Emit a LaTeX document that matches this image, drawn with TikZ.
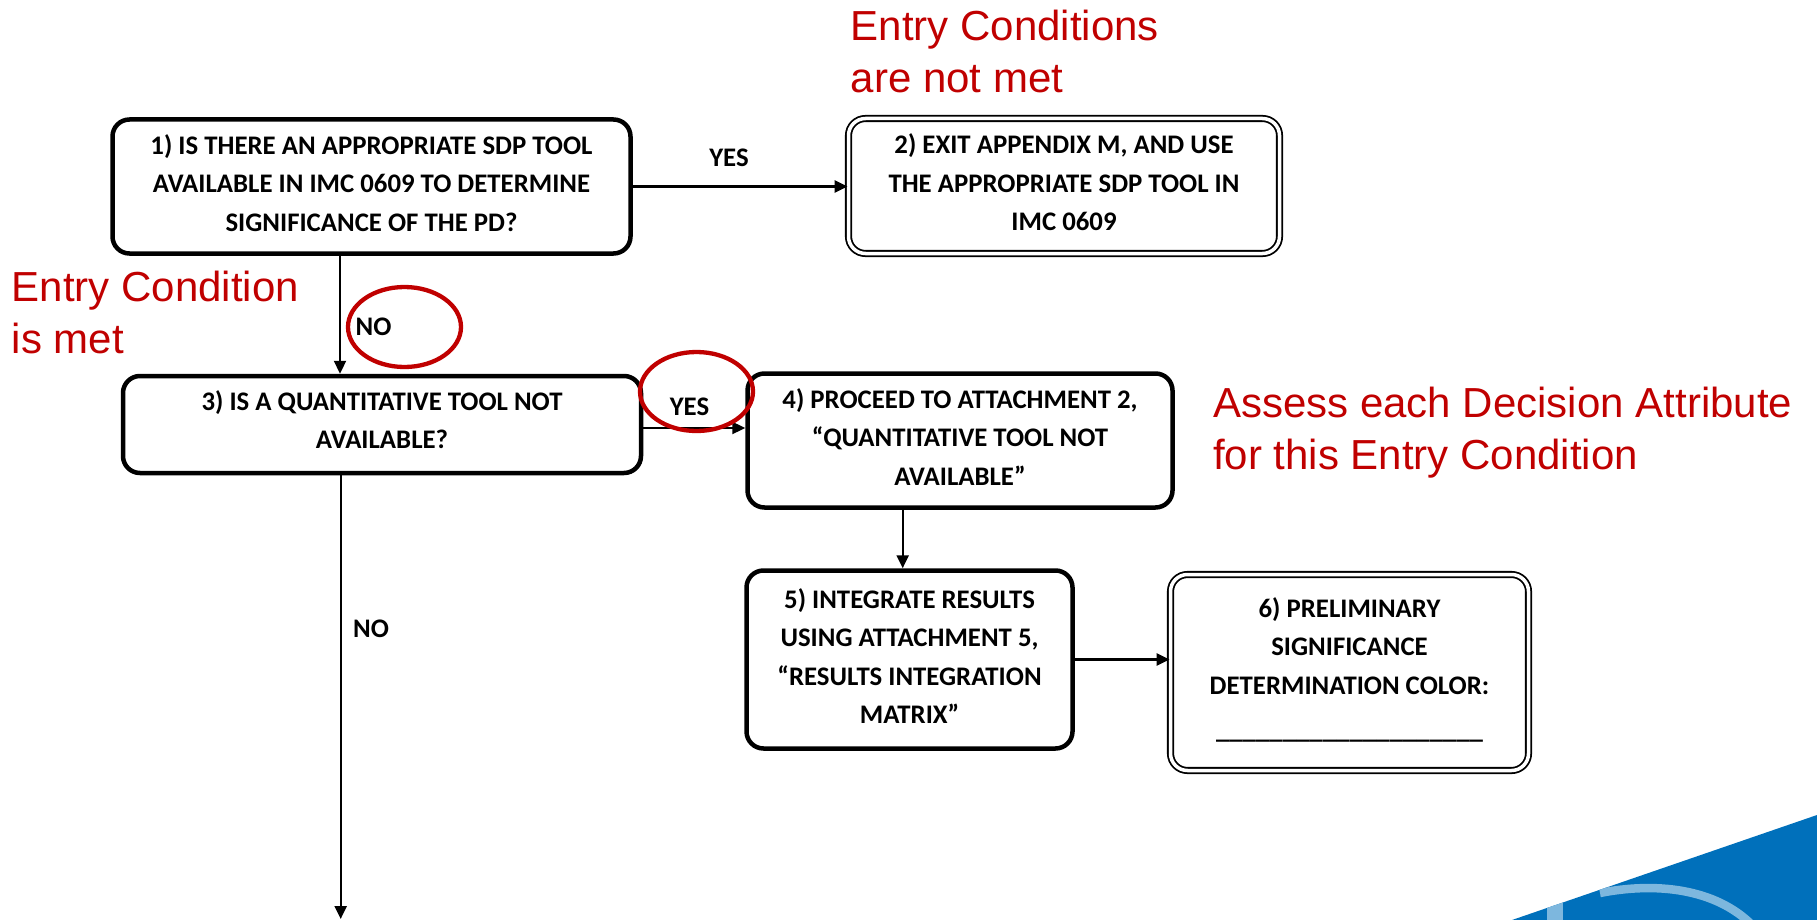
\documentclass[tikz,border=0pt]{standalone}
\usepackage{fontspec}
\setmainfont{Carlito}
\newfontfamily\redfont{Liberation Sans}
\usetikzlibrary{arrows.meta,shapes.geometric}
\definecolor{cred}{RGB}{192,0,0}
\definecolor{lblue}{RGB}{125,183,222}
\definecolor{dblue}{RGB}{0,112,187}
\newcommand\liftbox{\rule[-7pt]{0pt}{7pt}}
\begin{document}
\begin{tikzpicture}[x=1pt,y=-1pt,
  boxfont/.style={font=\fontsize{26.8}{38.5}\selectfont\bfseries},
  box/.style={draw, line width=4.5pt, rounded corners=17pt, align=center, inner sep=0pt, boxfont},
  dbox/.style={draw, line width=1.8pt, double, double distance=3.5pt, rounded corners=17pt, align=center, inner sep=0pt, boxfont},
  arr/.style={-{Triangle[length=13pt,width=12pt]}, line width=2.3pt},
  lbl/.style={inner sep=0pt, font=\fontsize{26.8}{30}\selectfont\bfseries},
  redtxt/.style={text=cred, inner sep=0pt, anchor=west, align=left, font=\redfont\fontsize{42}{52}\selectfont},
  ring/.style={draw=cred, line width=4.3pt, ellipse, inner sep=0pt}
]
\useasboundingbox (0,0) rectangle (1817,920);

% boxes
\node[box, minimum width=518pt, minimum height=134pt] (b1) at (371.5,186.5)
  {1) IS THERE AN APPROPRIATE SDP TOOL\\AVAILABLE IN IMC 0609 TO DETERMINE\\SIGNIFICANCE OF THE PD?\liftbox};
\node[dbox, minimum width=431pt, minimum height=135pt] (b2) at (1064,186)
  {2) EXIT APPENDIX M, AND USE\\THE APPROPRIATE SDP TOOL IN\\IMC 0609\liftbox};
\node[box, minimum width=518pt, minimum height=97pt] (b3) at (382,424.5)
  {3) IS A QUANTITATIVE TOOL NOT\\AVAILABLE?\rule[-10pt]{0pt}{10pt}};
\node[box, minimum width=425pt, minimum height=134pt] (b4) at (960,440.5)
  {4) PROCEED TO ATTACHMENT 2,\\“QUANTITATIVE TOOL NOT\\AVAILABLE”\liftbox};
\node[box, minimum width=326pt, minimum height=178pt] (b5) at (909.5,659.5)
  {5) INTEGRATE RESULTS\\USING ATTACHMENT 5,\\“RESULTS INTEGRATION\\MATRIX”\liftbox};
\node[dbox, minimum width=358pt, minimum height=196pt] (b6) at (1349.5,672.5)
  {6) PRELIMINARY\\SIGNIFICANCE\\DETERMINATION COLOR:\\[6pt]\_\_\_\_\_\_\_\_\_\_\_\_\_\_\_\_\_\_\_\_\rule[-9pt]{0pt}{9pt}};

% connectors
\draw[arr] (b1.east) -- (b1.east -| b2.west);
\draw[arr] ([xshift=-31.5pt]b1.south) -- ([xshift=-31.5pt]b1.south |- b3.north);
\draw[arr] ([yshift=-3.5pt]b3.east) -- ([yshift=-3.5pt]b3.east -| b4.west);
\draw[arr] ([xshift=-57.3pt]b4.south) -- ([xshift=-57.3pt]b4.south |- b5.north);
\draw[arr] (b5.east) -- (b5.east -| b6.west);
\coordinate (down) at (340.7,919);
\draw[arr] ([xshift=-41.3pt]b3.south) -- ([xshift=-41.3pt]b3.south |- down);

% labels
\node[lbl] (yes1) at (729,157.6) {YES};
\node[lbl] (no1) at (373.5,327) {NO};
\node[lbl] (yes2) at (689.5,407) {YES};
\node[lbl] (no2) at (371,629) {NO};

% red rings
\node[ring, minimum width=113pt, minimum height=80pt] (r1) at (404.5,327) {};
\node[ring, minimum width=113pt, minimum height=79pt] (r2) at (696.5,391.5) {};

% red annotations
\node[redtxt] (t1) at (850.5,51.5) {Entry Conditions\\are not met};
\node[redtxt] (t2) at (11.6,312.5) {Entry Condition\\is met};
\node[redtxt] (t3) at (1213,433) {Assess each Decision Attribute\\for this Entry Condition};

% logo corner
\fill[dblue] (1512,920) -- (1817,815) -- (1817,920) -- cycle;
\begin{scope}
  \clip (1512,920) -- (1817,815) -- (1817,920) -- cycle;
  \fill[lblue] (1547,870) rectangle (1563,920);
  \draw[lblue, line width=8.5pt] (1600,893) .. controls (1655,882) and (1715,888) .. (1752,925);
\end{scope}
\end{tikzpicture}
\end{document}
